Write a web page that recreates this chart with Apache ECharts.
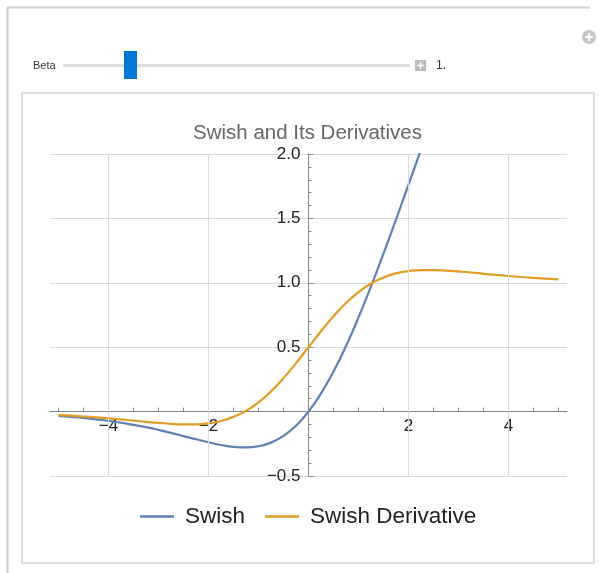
<!DOCTYPE html>
<html>
<head>
<meta charset="utf-8">
<script src="https://cdn.jsdelivr.net/npm/echarts@6/dist/echarts.min.js"></script>
<style>
html,body{margin:0;padding:0;background:#fff;}
#chart{width:599px;height:573px;}
</style>
</head>
<body>
<div id="chart"></div>
<script>
// Data
var xValues = [-5,-4.75,-4.5,-4.25,-4,-3.75,-3.5,-3.25,-3,-2.75,-2.5,-2.25,-2,-1.75,-1.5,-1.25,-1,-0.75,-0.5,-0.25,0,0.25,0.5,0.75,1,1.25,1.5,1.75,2,2.25,2.5,2.75,3,3.25,3.5,3.75,4,4.25,4.5,4.75,5];
var swishValues = [-0.034,-0.041,-0.049,-0.060,-0.072,-0.086,-0.103,-0.121,-0.142,-0.165,-0.190,-0.215,-0.238,-0.259,-0.274,-0.278,-0.269,-0.241,-0.189,-0.110,0,0.141,0.311,0.509,0.731,0.972,1.226,1.491,1.762,2.036,2.310,2.585,2.858,3.129,3.397,3.664,3.928,4.190,4.451,4.709,4.967];
var derivValues = [-0.027,-0.032,-0.038,-0.045,-0.053,-0.061,-0.070,-0.080,-0.088,-0.095,-0.099,-0.099,-0.091,-0.073,-0.041,0.006,0.072,0.157,0.260,0.376,0.500,0.624,0.740,0.843,0.928,0.994,1.041,1.073,1.091,1.099,1.099,1.095,1.088,1.080,1.070,1.061,1.053,1.045,1.038,1.032,1.027];
var seriesNames = ['Swish', 'Swish Derivative'];
var xTickLabels = [-4, -2, 2, 4];
var xTickValues = [-5,-4.5,-4,-3.5,-3,-2.5,-2,-1.5,-1,-0.5,0.5,1,1.5,2,2.5,3,3.5,4,4.5,5];
var xGridValues = [-4, -2, 2, 4];
var chartTitle = 'Swish and Its Derivatives';
var sliderLabel = 'Beta';
var sliderValue = '1.';

function pairs(xs, ys){ return xs.map(function(x,i){ return [x, ys[i]]; }); }

var chart = echarts.init(document.getElementById('chart'), null, {renderer:'canvas'});
var font = 'Liberation Sans, Arial, sans-serif';

var option = {
  backgroundColor: '#ffffff',
  animation: false,
  title: {
    text: chartTitle,
    left: 193, top: 123, padding: 0,
    textStyle: {fontFamily: font, fontSize: 20.5, fontWeight: 'normal', color: '#666666'}
  },
  legend: {
    left: 140, top: 505, padding: 0,
    icon: 'rect',
    itemWidth: 34, itemHeight: 2.5, itemGap: 20,
    textStyle: {fontFamily: font, fontSize: 22.5, color: '#222222', padding: [0,0,0,6]},
    data: seriesNames
  },
  grid: {left: 50, right: 32, top: 154, bottom: 97, containLabel: false},
  xAxis: {
    type: 'value', min: -5.17, max: 5.17, position: 'bottom', offset: -64.4,
    axisLine: {onZero: false, lineStyle: {color: '#888888', width: 1}},
    axisTick: {show: true, inside: true, length: 4, customValues: xTickValues, lineStyle: {color: '#888888'}},
    axisLabel: {customValues: xTickLabels, margin: 6, fontFamily: font, fontSize: 17, color: '#222222',
      formatter: function(v){ return v < 0 ? '\u2212' + Math.abs(v) : String(v); }},
    splitLine: {show: false}
  },
  yAxis: {
    type: 'value', min: -0.5, max: 2, interval: 0.5, position: 'left', offset: -258.5,
    axisLine: {show: true, onZero: false, lineStyle: {color: '#888888', width: 1}},
    axisTick: {show: true, inside: true, length: 5, lineStyle: {color: '#888888'}},
    minorTick: {show: true, splitNumber: 5, length: 3, lineStyle: {color: '#888888'}},
    axisLabel: {margin: 8, fontFamily: font, fontSize: 17, color: '#222222',
      formatter: function(v){ if (Math.abs(v) < 1e-9) return ''; return (v < 0 ? '\u2212' : '') + Math.abs(v).toFixed(1); }},
    splitLine: {show: true, lineStyle: {color: '#d9d9d9', width: 1}}
  },
  graphic: [
    {type: 'line', shape: {x1: 7, y1: 7.5, x2: 590, y2: 7.5}, style: {stroke: '#cccccc', lineWidth: 2}, silent: true},
    {type: 'line', shape: {x1: 7.5, y1: 7, x2: 7.5, y2: 573}, style: {stroke: '#cccccc', lineWidth: 2}, silent: true},
    {type: 'rect', z: -10, shape: {x: 22, y: 93, width: 572, height: 470}, style: {fill: '#ffffff', stroke: '#dddddd', lineWidth: 2}, silent: true},
    {type: 'text', x: 33, y: 66, style: {text: sliderLabel, font: '11px ' + font, fill: '#333333', textVerticalAlign: 'middle'}},
    {type: 'rect', shape: {x: 63, y: 64, width: 347, height: 3}, style: {fill: '#dddddd'}},
    {type: 'rect', shape: {x: 124, y: 51, width: 13, height: 28}, style: {fill: '#0078d7'}},
    {type: 'rect', shape: {x: 415, y: 60, width: 11, height: 11}, style: {fill: '#bbbbbb'}},
    {type: 'line', shape: {x1: 417, y1: 65.5, x2: 424, y2: 65.5}, style: {stroke: '#ffffff', lineWidth: 1.5}},
    {type: 'line', shape: {x1: 420.5, y1: 62, x2: 420.5, y2: 69}, style: {stroke: '#ffffff', lineWidth: 1.5}},
    {type: 'text', x: 436, y: 66, style: {text: sliderValue, font: '12px ' + font, fill: '#333333', textVerticalAlign: 'middle'}},
    {type: 'circle', shape: {cx: 589, cy: 37, r: 7}, style: {fill: '#c4c4c4'}},
    {type: 'line', shape: {x1: 585, y1: 37, x2: 593, y2: 37}, style: {stroke: '#ffffff', lineWidth: 2}},
    {type: 'line', shape: {x1: 589, y1: 33, x2: 589, y2: 41}, style: {stroke: '#ffffff', lineWidth: 2}}
  ],
  series: [
    {
      name: 'grid', type: 'line', data: [], z: 1, silent: true,
      markLine: {
        silent: true, symbol: ['none','none'], label: {show: false},
        lineStyle: {color: '#d9d9d9', width: 1, type: 'solid'},
        data: xGridValues.map(function(v){ return {xAxis: v}; })
      }
    },
    {
      name: seriesNames[0], type: 'line', data: pairs(xValues, swishValues),
      smooth: true, symbol: 'none', showSymbol: false, clip: true,
      lineStyle: {color: '#5e81b5', width: 2.2}, itemStyle: {color: '#5e81b5'}, z: 3
    },
    {
      name: seriesNames[1], type: 'line', data: pairs(xValues, derivValues),
      smooth: true, symbol: 'none', showSymbol: false, clip: true,
      lineStyle: {color: '#e19c24', width: 2.2}, itemStyle: {color: '#e19c24'}, z: 3
    }
  ]
};
chart.setOption(option);
</script>
</body>
</html>
